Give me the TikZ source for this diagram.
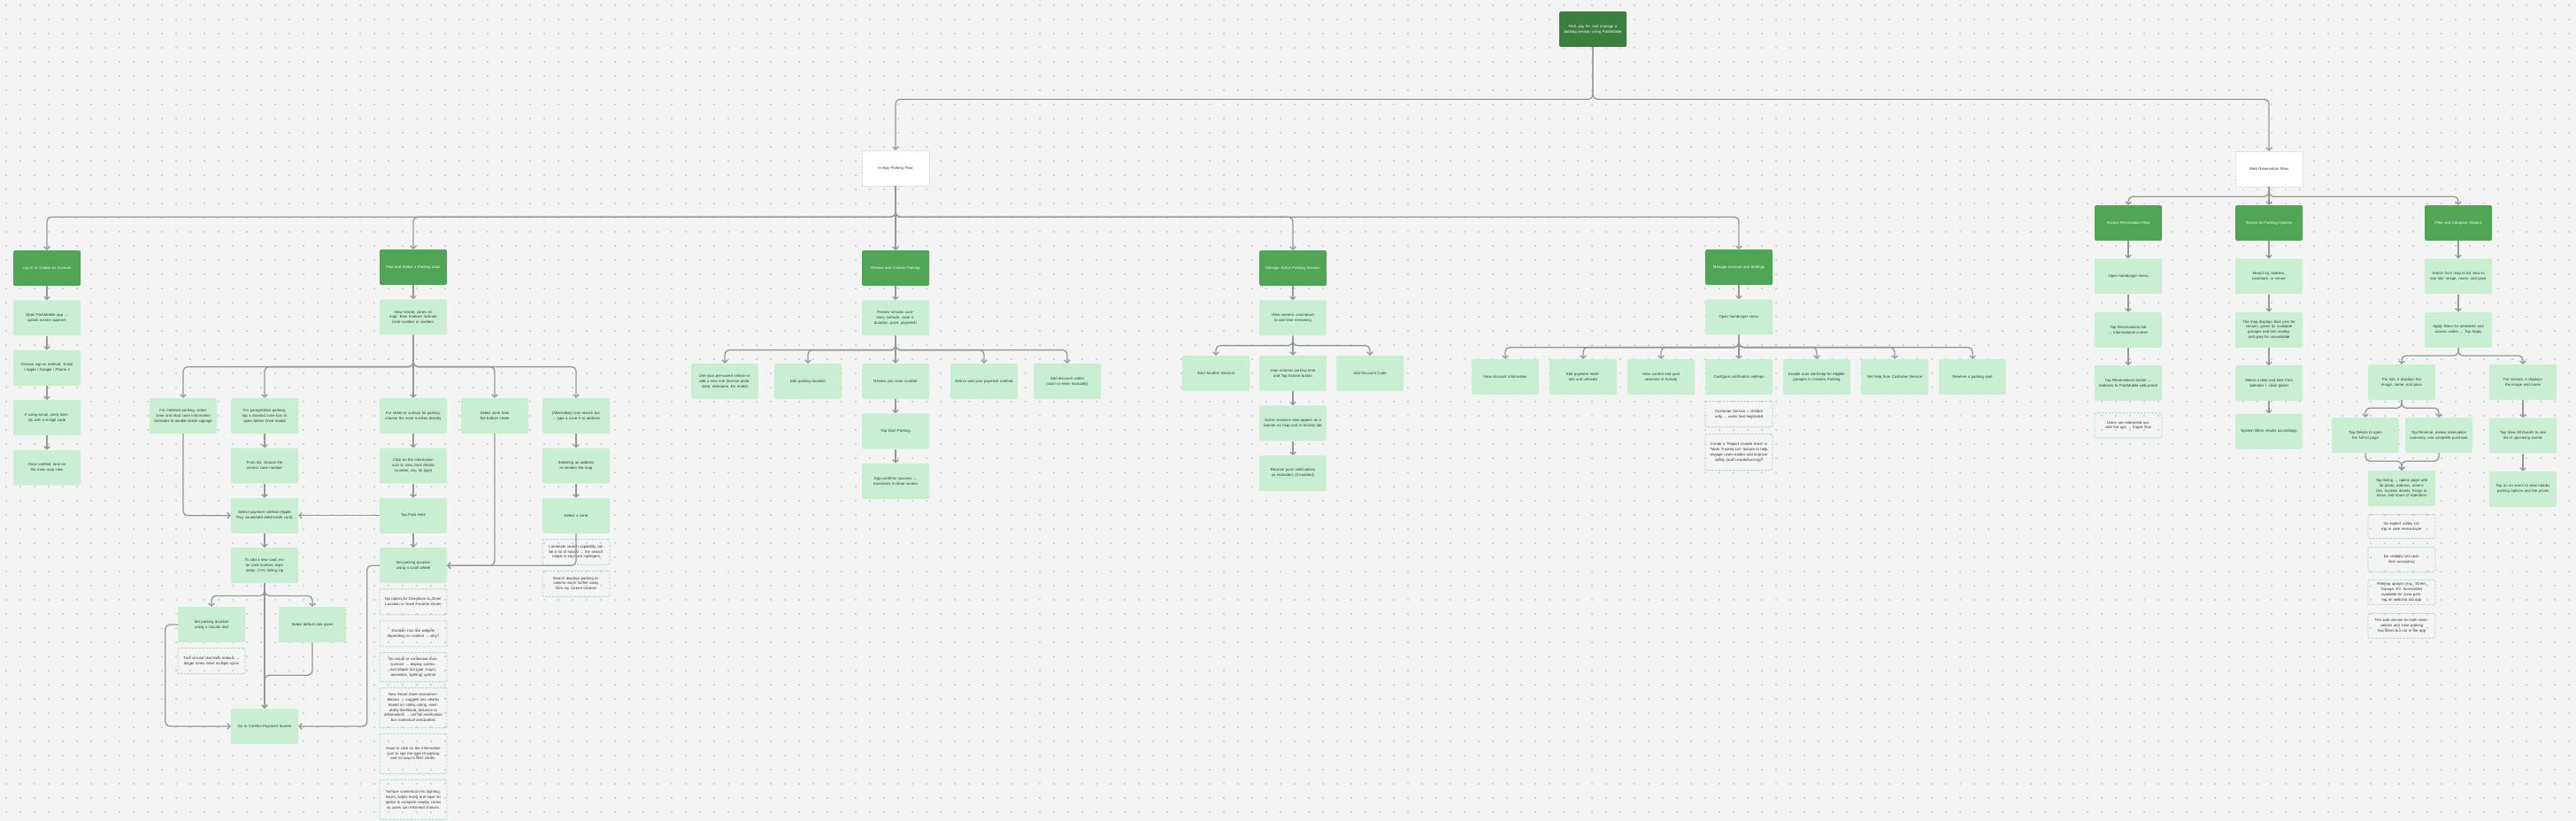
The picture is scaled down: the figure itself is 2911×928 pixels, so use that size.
\documentclass[tikz,border=0pt]{standalone}
\usepackage{fontspec}
\setmainfont{Liberation Sans}
\usepackage{tikz}
\usetikzlibrary{arrows.meta,positioning}

\definecolor{canvas}{HTML}{F4F4F4}
\definecolor{griddot}{HTML}{C9C9C9}
\definecolor{rootgreen}{HTML}{3A7F3D}
\definecolor{phasegreen}{HTML}{4FA553}
\definecolor{stepgreen}{HTML}{C9EFD2}
\definecolor{notegreen}{HTML}{A9DDB5}
\definecolor{linkgray}{HTML}{939A94}
\definecolor{inkgray}{HTML}{333B35}

\begin{document}
\begin{tikzpicture}[x=1pt, y=-1pt, >={Straight Barb[length=3pt,width=6.5pt]}, node distance=16pt,
    every node/.style={font=\fontsize{4.3}{5.9}\selectfont}]
  \tikzstyle{rootbox}=[fill=rootgreen, text=white, rounded corners=1.5pt, align=center, text width=66pt, minimum width=76pt, minimum height=40pt, inner sep=0pt]
  \tikzstyle{flowbox}=[fill=white, draw=white!86!black, densely dotted, line width=0.4pt, text=inkgray, align=center, text width=66pt, minimum width=76pt, minimum height=40pt, inner sep=0pt]
  \tikzstyle{phasebox}=[fill=phasegreen, text=white, rounded corners=1.5pt, align=center, text width=66pt, minimum width=76pt, minimum height=40pt, inner sep=0pt]
  \tikzstyle{stepbox}=[fill=stepgreen, text=inkgray, rounded corners=1.5pt, align=center, text width=66pt, minimum width=76pt, minimum height=40pt, inner sep=0pt]
  \tikzstyle{notebox}=[draw=notegreen, dash pattern=on 2.5pt off 1.5pt, line width=0.9pt, rounded corners=2pt, text=inkgray, align=center, text width=66pt, minimum width=76pt, inner sep=0pt]
  \tikzstyle{link}=[->, draw=linkgray, line width=1.3pt, rounded corners=5pt]

  % canvas with dot grid
  \fill[canvas] (0,0) rectangle (2911,928);
  \useasboundingbox (0,0) rectangle (2911,928);
  \foreach \gy in {6,22,...,926}
    \draw[griddot, line width=2.2pt, line cap=round, dash pattern=on 0pt off 16pt] (7,\gy) -- (2911,\gy);

  % top
  \node[rootbox] (root) at (1800,33) {Find, pay for, and manage a parking session using ParkMobile};
  \node[flowbox] (inapp) at (1012,190) {In-App Parking Flow};
  \node[flowbox] (webflow) at (2564,191) {Web Reservation Flow};

  % log in
  \node[phasebox] (login) at (53,303) {Log in or Create an Account};
  \node[stepbox, below=of login] (openapp) {Open ParkMobile app → splash screen appears};
  \node[stepbox, below=of openapp] (signin) {Choose sign-in method: Email / Apple / Google / Phone \#};
  \node[stepbox, below=of signin] (verify) {If using email, verify identity with a 6-digit code};
  \node[stepbox, below=of verify] (mapview) {Once verified, land on the main map view};

  % find a zone
  \node[phasebox] (findzone) at (467,302) {Find and Select a Parking Zone};
  \node[stepbox, below=of findzone] (nearby) {View nearby zones on map. Blue markers indicate zone number or clusters.};
  \node[stepbox] (metered) at (207,470) {For metered parking, select zone and read zone information reminder to double-check signage};
  \node[stepbox] (garage) at (299,470) {For garage/deck parking, tap a stacked zone box to open Select Zone modal};
  \node[stepbox] (street) at (467,470) {For street or surface lot parking, choose the zone number directly};
  \node[stepbox] (sheet) at (559,470) {Select zone from the bottom sheet};
  \node[stepbox] (searchbar) at (651,470) {(Alternative) Use search bar → type a zone \# or address};
  \node[stepbox, below=of garage] (zonelist) {From list, choose the correct zone number};
  \node[stepbox, below=of zonelist] (payment) {Select payment method (Apple Pay, saved/add debit/credit card)};
  \node[stepbox, below=of payment] (newcard) {To add a new card, enter card number, expiration, CVV, billing zip};
  \node[stepbox, below=of street] (infoicon) {Click on the information icon to view zone details (number, city, lot type)};
  \node[stepbox, below=of infoicon] (parkhere) {Tap Park Here};
  \node[stepbox, below=of parkhere] (scroll) {Set parking duration using a scroll wheel};
  \node[stepbox, below=of searchbar] (recenter) {Selecting an address re-centers the map};
  \node[stepbox, below=of recenter] (pickzone) {Select a zone};
  \node[stepbox] (dial) at (239,706) {Set parking duration using a circular dial};
  \node[stepbox] (defrate) at (353,706) {Select default rate given};
  \node[notebox, minimum height=29pt, below=6pt of dial] (dialnote) {Trial circular dial feels tedious → longer times need multiple spins};
  \node[stepbox] (confirmpay) at (299,821) {Go to Confirm Payment Screen};
  \node[notebox, minimum height=29pt, below=6pt of scroll] (dirnote) {No option for Directions to Zone/ Location or Save Favorite Zones};
  \node[notebox, minimum height=29pt, below=6pt of dirnote] (widgetnote) {Duration has two widgets depending on context → why?};
  \node[notebox, minimum height=33pt, below=6pt of widgetnote] (visualnote) {No visual or contextual reassurance → display contextual details (lot type, hours, amenities, lighting) upfront};
  \node[notebox, minimum height=45pt, below=6pt of visualnote] (smartnote) {New Smart Zone recommendations → suggest lots nearby based on safety rating, availability likelihood, distance to destinations → not full reservation but contextual anticipation};
  \node[notebox, minimum height=45pt, below=6pt of smartnote] (infonote) {Have to click on the information icon to see the type of parking and no way to filter zones.};
  \node[notebox, minimum height=45pt, below=6pt of infonote] (surfacenote) {Surface contextual info (lighting, hours, safety level) and have an option to compare nearby zones so users can informed choices.};
  \node[notebox, minimum height=29pt, below=6pt of pickzone] (landmarknote) {Landmark search capability can be a lot of hassle → the search needs to be more intelligent};
  \node[notebox, minimum height=29pt, below=6pt of landmarknote] (farnote) {Search displays parking locations much further away from my current location};

  % review and confirm
  \node[phasebox] (review) at (1012,303) {Review and Confirm Parking};
  \node[stepbox, below=of review] (summary) {Review session summary (vehicle, zone \#, duration, price, payment)};
  \node[stepbox] (vehicle) at (819,431) {Use your pre-saved vehicle or add a new one (license plate, state, nickname, EV mode)};
  \node[stepbox] (editdur) at (913,431) {Edit parking duration};
  \node[stepbox] (zonenum) at (1012,431) {Review you zone number};
  \node[stepbox] (editpay) at (1112,431) {Edit or add your payment method};
  \node[stepbox] (discount) at (1206,431) {Add discount codes (scan or enter manually)};
  \node[stepbox, below=of zonenum] (startpark) {Tap Start Parking};
  \node[stepbox, below=of startpark] (success) {App confirms success → transitions to timer screen};

  % active session
  \node[phasebox] (active) at (1461,303) {Manage Active Parking Session};
  \node[stepbox, below=of active] (countdown) {View numeric countdown to see time remaining};
  \node[stepbox] (another) at (1374,422) {Start Another Session};
  \node[stepbox] (extend) at (1461,422) {User extends parking time and Tap Extend button};
  \node[stepbox] (adddisc) at (1548,422) {Add Discount Code};
  \node[stepbox, below=of extend] (banner) {Active sessions also appear as a banner on map and in Activity tab};
  \node[stepbox, below=of banner] (push) {Receive push notifications as reminders (if enabled)};

  % account and settings
  \node[phasebox] (account) at (1965,302) {Manage Account and Settings};
  \node[stepbox, below=of account] (hamburger) {Open hamburger menu};
  \node[stepbox] (accinfo) at (1701,426) {View Account Information};
  \node[stepbox] (editpm) at (1789,426) {Edit payment methods and vehicles};
  \node[stepbox] (sessions) at (1877,426) {View current and past sessions in Activity};
  \node[stepbox] (notify) at (1965,426) {Configure notification settings};
  \node[stepbox] (autostart) at (2053,426) {Enable auto start/stop for eligible garages in Camera Parking};
  \node[stepbox] (help) at (2141,426) {Get help from Customer Service};
  \node[stepbox] (reserve) at (2229,426) {Reserve a parking spot};
  \node[notebox, minimum height=29pt, below=7pt of notify] (chatnote) {Customer Service = chatbot only → users feel neglected};
  \node[notebox, minimum height=41pt, below=7pt of chatnote] (unsafenote) {Create a “Report Unsafe Area” or “Mark Trusted Lot” feature to help engage users earlier and improve safety (and crowdsourcing)?};

  % web: reservations
  \node[phasebox] (access) at (2405,252) {Access Reservation Flow};
  \node[stepbox, below=20pt of access] (webmenu) {Open hamburger menu};
  \node[stepbox, below=20pt of webmenu] (restab) {Tap Reservations tab → informational screen};
  \node[stepbox, below=20pt of restab] (resbutton) {Tap Reservations button → redirects to ParkMobile web portal};
  \node[notebox, minimum height=28pt, below=13pt of resbutton] (redirnote) {Users are redirected outside the app → fragile flow};

  % web: search
  \node[phasebox] (searchopt) at (2564,252) {Search for Parking Options};
  \node[stepbox, below=20pt of searchopt] (byaddress) {Search by address, landmark, or venue};
  \node[stepbox, below=20pt of byaddress] (pins) {The map displays blue pins for venues, green for available garages and lots nearby, and gray for unavailable};
  \node[stepbox, below=20pt of pins] (datetime) {Select a date and time from calendar + clock picker};
  \node[stepbox, below=14pt of datetime] (sysfilter) {System filters results accordingly};

  % web: filter and compare
  \node[phasebox] (filter) at (2778,252) {Filter and Compare Options};
  \node[stepbox, below=20pt of filter] (listview) {Switch from map to list view to see lots’ image, name, and price};
  \node[stepbox, below=20pt of listview] (amenity) {Apply filters for amenities and access codes → Tap Apply};
  \node[stepbox] (forlots) at (2714,432) {For lots, it displays the image, name, and price};
  \node[stepbox] (forvenues) at (2851,432) {For venues, it displays the image and name};
  \node[stepbox] (details) at (2673,492) {Tap Details to open the full lot page};
  \node[stepbox] (reservebuy) at (2756,492) {Tap Reserve, review reservation summary, and complete purchase};
  \node[stepbox] (listing) at (2714,552) {Tap listing → opens page with lot photo, address, amenities, location details, things to know, and hours of operation};
  \node[stepbox, below=20pt of forvenues] (events) {Tap View All Events to see list of upcoming events};
  \node[stepbox, below=20pt of events] (eventtap) {Tap on an event to view nearby parking options and the prices};
  \node[notebox, minimum height=27pt, below=9pt of listing] (safetynote) {No explicit safety rating or user review layer};
  \node[notebox, minimum height=28pt, below=9pt of safetynote] (occupancynote) {No visibility into real-time occupancy};
  \node[notebox, minimum height=28pt, below=8pt of occupancynote] (optionsnote) {Filtering options (e.g., Street, Garage, EV, Accessible) available for zone parking on web but not app};
  \node[notebox, minimum height=28pt, below=9pt of optionsnote] (webnote) {The web version for both reservations and zone parking has filters but not in the app};

  % connectors
  \draw[link] (root.south) -- ++(0,59) -| (inapp.north);
  \draw[link] (root.south) -- ++(0,59) -| (webflow.north);
  \draw[link] (inapp.south) -- ++(0,35) -| (login.north);
  \draw[link] (inapp.south) -- ++(0,35) -| (findzone.north);
  \draw[link] (inapp) -- (review);
  \draw[link] (inapp.south) -- ++(0,35) -| (active.north);
  \draw[link] (inapp.south) -- ++(0,35) -| (account.north);
  \draw[link] (webflow.south) -- ++(0,11) -| (access.north);
  \draw[link] (webflow) -- (searchopt);
  \draw[link] (webflow.south) -- ++(0,11) -| (filter.north);

  \draw[link] (login) -- (openapp);
  \draw[link] (openapp) -- (signin);
  \draw[link] (signin) -- (verify);
  \draw[link] (verify) -- (mapview);

  \draw[link] (findzone) -- (nearby);
  \draw[link] (nearby.south) -- ++(0,36) -| (metered.north);
  \draw[link] (nearby.south) -- ++(0,36) -| (garage.north);
  \draw[link] (nearby) -- (street);
  \draw[link] (nearby.south) -- ++(0,36) -| (sheet.north);
  \draw[link] (nearby.south) -- ++(0,36) -| (searchbar.north);
  \draw[link] (garage) -- (zonelist);
  \draw[link] (zonelist) -- (payment);
  \draw[link] (payment) -- (newcard);
  \draw[link] (street) -- (infoicon);
  \draw[link] (infoicon) -- (parkhere);
  \draw[link] (parkhere) -- (scroll);
  \draw[link] (searchbar) -- (recenter);
  \draw[link] (recenter) -- (pickzone);
  \draw[link] (metered.south) |- (payment.west);
  \draw[link] (parkhere) -- (payment);
  \draw[link] (sheet.south) |- (scroll.east);
  \draw[link] (pickzone.south) |- (scroll.east);
  \draw[link] (newcard.south) -- ++(0,14) -| (dial.north);
  \draw[link] (newcard.south) -- ++(0,14) -| (defrate.north);
  \draw[link] (newcard) -- (confirmpay);
  \draw[link] (defrate.south) -- ++(0,37) -| (confirmpay.north);
  \draw[link] (dial.west) -- ++(-14,0) |- (confirmpay.west);
  \draw[link] (scroll.west) -- ++(-14,0) |- (confirmpay.east);

  \draw[link] (review) -- (summary);
  \draw[link] (summary.south) -- ++(0,16) -| (vehicle.north);
  \draw[link] (summary.south) -- ++(0,16) -| (editdur.north);
  \draw[link] (summary) -- (zonenum);
  \draw[link] (summary.south) -- ++(0,16) -| (editpay.north);
  \draw[link] (summary.south) -- ++(0,16) -| (discount.north);
  \draw[link] (zonenum) -- (startpark);
  \draw[link] (startpark) -- (success);

  \draw[link] (active) -- (countdown);
  \draw[link] (countdown.south) -- ++(0,11) -| (another.north);
  \draw[link] (countdown) -- (extend);
  \draw[link] (countdown.south) -- ++(0,11) -| (adddisc.north);
  \draw[link] (extend) -- (banner);
  \draw[link] (banner) -- (push);

  \draw[link] (account) -- (hamburger);
  \draw[link] (hamburger.south) -- ++(0,14) -| (accinfo.north);
  \draw[link] (hamburger.south) -- ++(0,14) -| (editpm.north);
  \draw[link] (hamburger.south) -- ++(0,14) -| (sessions.north);
  \draw[link] (hamburger) -- (notify);
  \draw[link] (hamburger.south) -- ++(0,14) -| (autostart.north);
  \draw[link] (hamburger.south) -- ++(0,14) -| (help.north);
  \draw[link] (hamburger.south) -- ++(0,14) -| (reserve.north);

  \draw[link] (access) -- (webmenu);
  \draw[link] (webmenu) -- (restab);
  \draw[link] (restab) -- (resbutton);
  \draw[link] (searchopt) -- (byaddress);
  \draw[link] (byaddress) -- (pins);
  \draw[link] (pins) -- (datetime);
  \draw[link] (datetime) -- (sysfilter);
  \draw[link] (filter) -- (listview);
  \draw[link] (listview) -- (amenity);
  \draw[link] (amenity.south) -- ++(0,9) -| (forlots.north);
  \draw[link] (amenity.south) -- ++(0,9) -| (forvenues.north);
  \draw[link] (forlots.south) -- ++(0,9) -| (details.north);
  \draw[link] (forlots.south) -- ++(0,9) -| (reservebuy.north);
  \draw[link] (details.south) -- ++(0,9) -| (listing.north);
  \draw[link] (reservebuy.south) -- ++(0,9) -| (listing.north);
  \draw[link] (forvenues) -- (events);
  \draw[link] (events) -- (eventtap);
\end{tikzpicture}
\end{document}
